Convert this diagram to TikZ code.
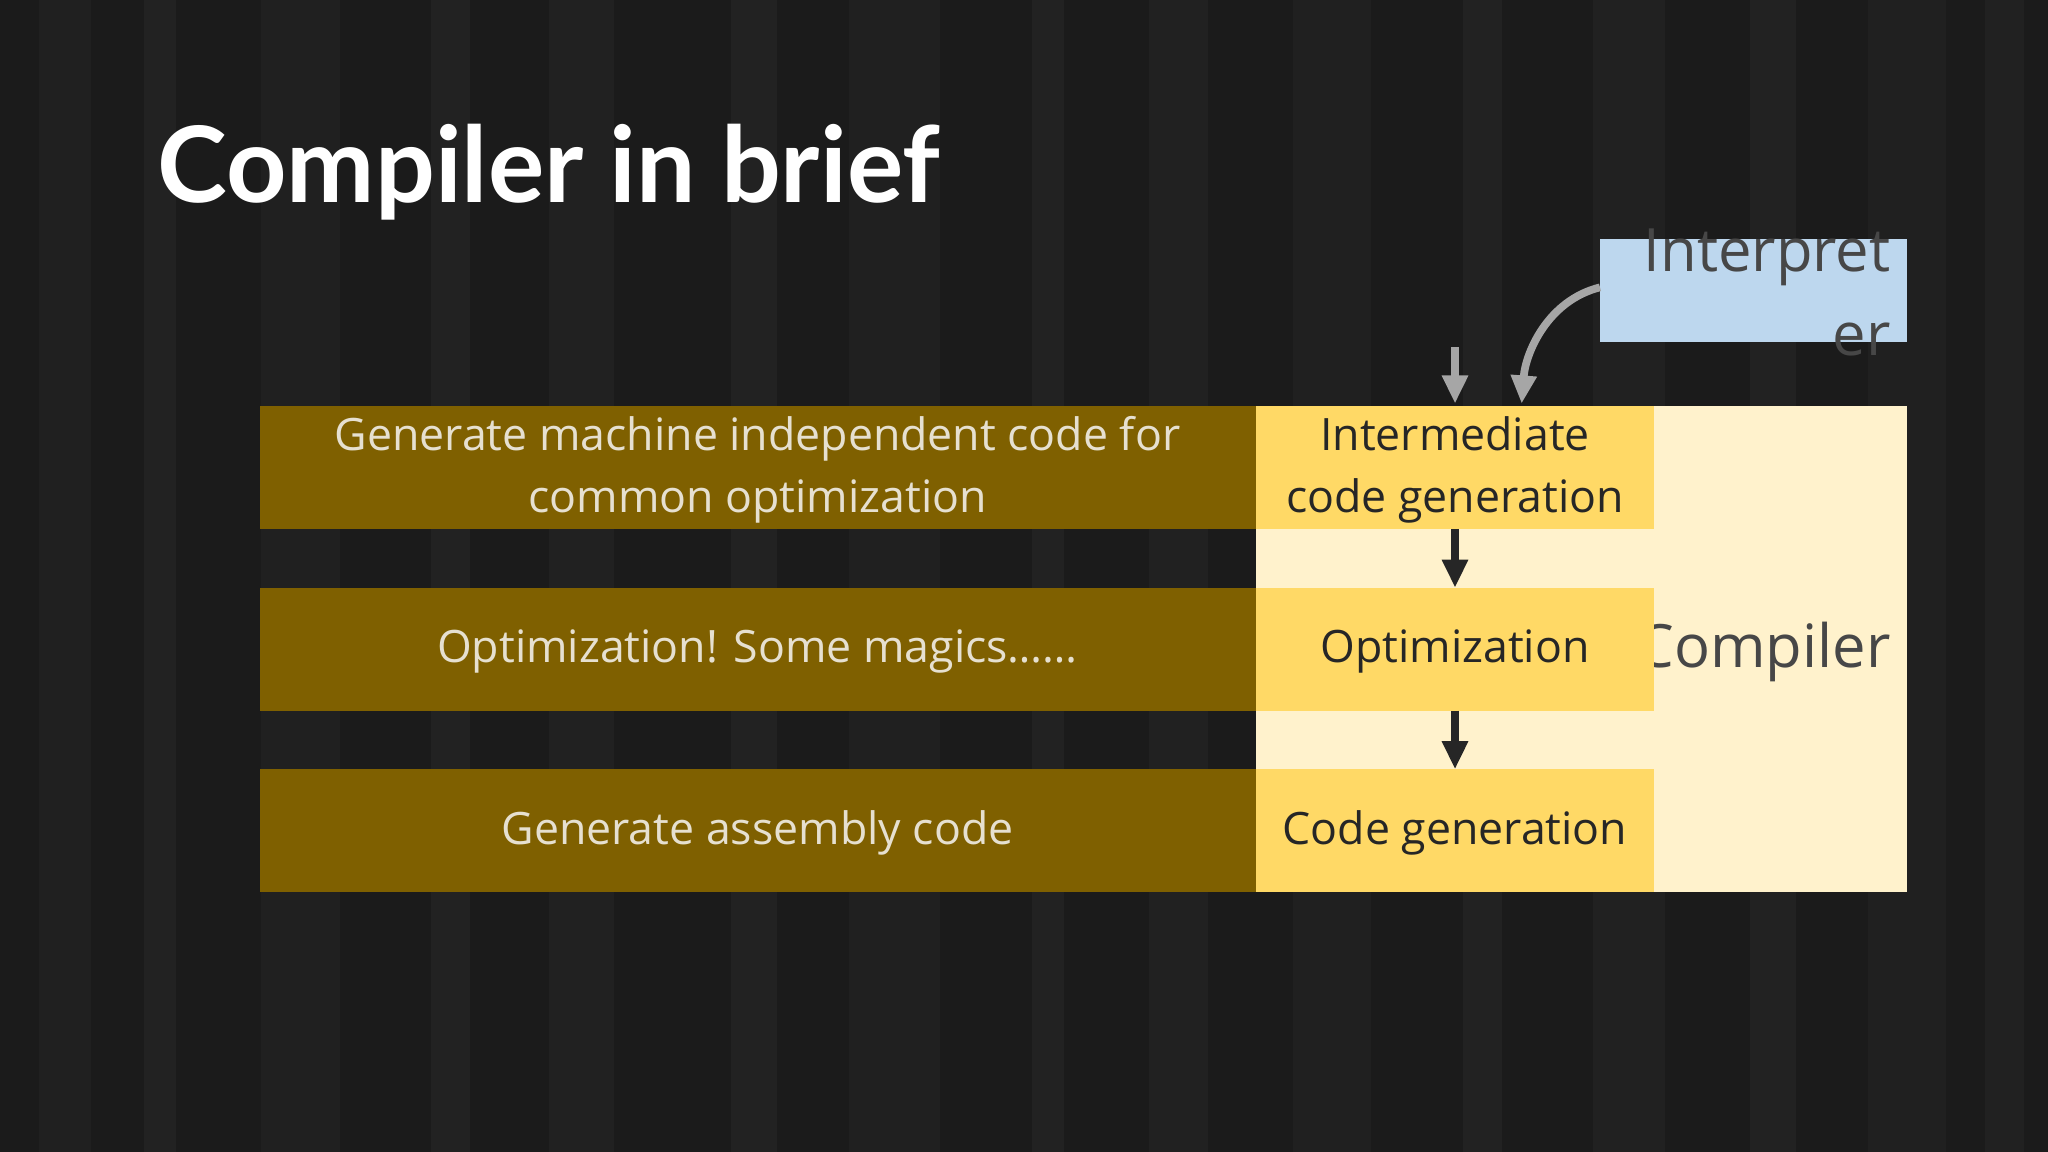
\documentclass[tikz,border=0pt]{standalone}
\usepackage{fontspec}
\setmainfont{Open Sans}
\newfontfamily\titlefont{Lato}
\usetikzlibrary{arrows.meta}
\definecolor{bgdark}{HTML}{1B1B1B}
\definecolor{brownrow}{HTML}{7F6000}
\definecolor{yellowbox}{HTML}{FFD966}
\definecolor{creambox}{HTML}{FFF2CC}
\definecolor{bluebox}{HTML}{BDD7EE}
\definecolor{lighttxt}{HTML}{E6E0D0}
\definecolor{darktxt}{HTML}{262626}
\begin{document}
\begin{tikzpicture}[x=0.013061cm,y=-0.013061cm,
  row/.style={fill=brownrow,draw=none},
  ybox/.style={fill=yellowbox,draw=none},
  rowtxt/.style={text=lighttxt,font=\fontsize{12.7}{17.6}\selectfont,align=center},
  ytxt/.style={text=darktxt,font=\fontsize{12.7}{17.6}\selectfont,align=center},
  darrow/.style={-{Triangle[length=8pt,width=7pt]},line width=2.2pt,draw=darktxt},
  garrow/.style={-{Triangle[length=8pt,width=7pt]},line width=2.2pt,draw=gray!70}]
\fill[bgdark] (0,0) rectangle (1568,882);
\foreach \x/\w/\c in {30/40/25,110/25/30,200/60/22,330/30/32,420/50/26,560/35/30,650/70/23,790/25/33,880/45/27,990/60/24,1120/30/31,1220/55/26,1340/35/30,1430/60/22,1520/30/29}
  \fill[white,opacity=0.0\c] (\x,0) rectangle (\x+\w,882);
\useasboundingbox (0,0) rectangle (1568,882);
\node[anchor=base west,text=white,font=\titlefont\bfseries\fontsize{30}{36}\selectfont,inner sep=0] (title) at (120,155) {Compiler in brief};
% cream compiler box
\fill[creambox] (962,311) rectangle (1460,683);
\node[text=darktxt!85,font=\fontsize{17}{22}\selectfont,anchor=east,inner sep=0] (comp) at (1448,499) {Compiler};
% rows
\fill[row] (199,311) rectangle (962,405);
\fill[row] (199,450) rectangle (962,544);
\fill[row] (199,589) rectangle (962,683);
\node[rowtxt] (r1) at (580,360) {Generate machine independent code for\\common optimization};
\node[rowtxt] (r2) at (580,499) {Optimization! Some magics……};
\node[rowtxt] (r3) at (580,638) {Generate assembly code};
\fill[ybox] (962,311) rectangle (1266,405);
\fill[ybox] (962,450) rectangle (1266,544);
\fill[ybox] (962,589) rectangle (1266,683);
\node[ytxt] (y1) at (1114,360) {Intermediate\\code generation};
\node[ytxt] (y2) at (1114,499) {Optimization};
\node[ytxt] (y3) at (1114,638) {Code generation};
\coordinate (y1b) at (1114,405); \coordinate (y2t) at (1114,450);
\coordinate (y2b) at (1114,544); \coordinate (y3t) at (1114,589);
\draw[darrow] (y1b) -- (y2t);
\draw[darrow] (y2b) -- (y3t);
% interpreter
\fill[bluebox] (1225,183) rectangle (1460,262);
\node[text=darktxt!85,font=\fontsize{17}{24}\selectfont,align=right,anchor=east,inner sep=0] (interp) at (1448,224) {Interpret\\er};
\coordinate (g0) at (1114,266); \coordinate (y1t) at (1114,309);
\coordinate (il) at (1225,220); \coordinate (y1t2) at (1165,309);
\draw[garrow] (g0) -- (y1t);
\draw[garrow] (il) .. controls (1185,230) and (1168,270) .. (y1t2);
\end{tikzpicture}
\end{document}
